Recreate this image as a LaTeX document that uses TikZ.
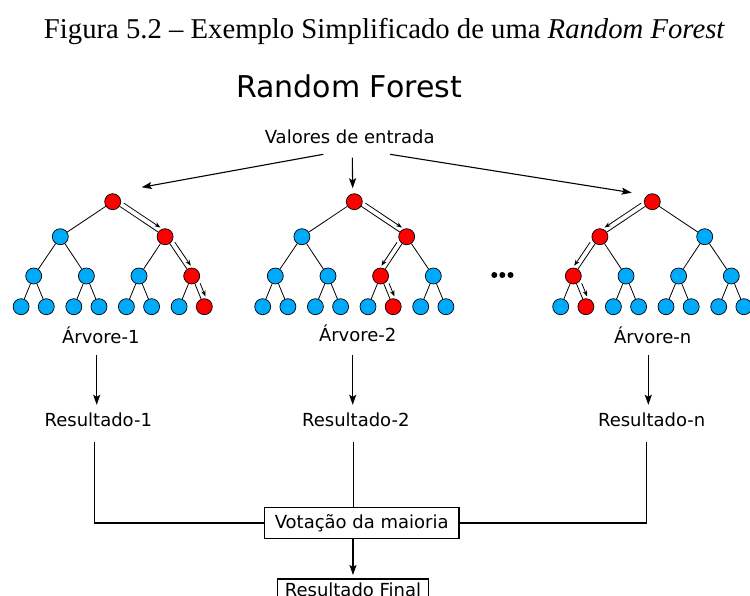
\documentclass[tikz,border=0pt]{standalone}
\usepackage{fontspec}
\setmainfont{DejaVu Sans}
\newfontfamily\capfont{Liberation Serif}
\usetikzlibrary{calc,arrows.meta}
\definecolor{nodeblue}{RGB}{0,170,250}
\definecolor{nodered}{RGB}{255,0,0}
\tikzset{
  tn/.style={circle,draw=black,line width=0.7pt,minimum size=16pt,inner sep=0pt},
  edge/.style={line width=0.8pt},
  flow/.style={line width=0.8pt,-{Stealth[length=6pt,width=4.5pt]},shorten <=10pt,shorten >=9pt},
  lbl/.style={font=\fontsize{18}{21}\selectfont,inner sep=0pt,anchor=base},
  arr/.style={line width=1.1pt,-{Stealth[length=10pt,width=7pt,inset=2pt]}},
  link/.style={line width=1.4pt},
  box/.style={draw,line width=1.2pt,font=\fontsize{18}{21}\selectfont,inner sep=0pt},
}
\newcommand\drawtree[3]{%
  \foreach \i/\dx/\yy in {1/0/201.7, 2/-52.4/236.7, 3/52.4/236.7,
      4/-79/276, 5/-26.3/276, 6/26.3/276, 7/79/276,
      8/-91.6/306.7, 9/-66.4/306.7, 10/-38.9/306.7, 11/-13.7/306.7,
      12/13.7/306.7, 13/38.9/306.7, 14/66.4/306.7, 15/91.6/306.7}{%
    \gdef\fc{nodeblue}%
    \foreach \r in {#3}{\ifnum\r=\i\relax\gdef\fc{nodered}\fi}%
    \node[tn,fill=\fc] (#1-\i) at (#2+\dx,\yy) {};
  }
  \foreach \p/\c in {1/2,1/3,2/4,2/5,3/6,3/7,4/8,4/9,5/10,5/11,6/12,6/13,7/14,7/15}
    \draw[edge] (#1-\p) -- (#1-\c);
}
\newcommand\flowarr[4]{\draw[flow] ($(#1)!5pt!#3:(#2)$) -- ($(#2)!5pt!#4:(#1)$);}
\begin{document}
\begin{tikzpicture}[x=1pt,y=-1pt]
\useasboundingbox (0,0) rectangle (750,596);

% caption and title
\node[anchor=base,inner sep=0pt,font=\capfont\fontsize{28.7}{32}\selectfont] (cap) at (384.5,39)
  {Figura 5.2 – Exemplo Simplificado de uma \textit{Random Forest}};
\node[anchor=base,inner sep=0pt,font=\fontsize{30}{34}\selectfont] (title) at (349,98) {Random Forest};

\node[lbl] (val) at (349.7,144) {Valores de entrada};

% trees
\drawtree{t1}{112.7}{1,3,7,15}
\drawtree{t2}{354.3}{1,3,6,13}
\drawtree{t3}{652.3}{1,2,4,9}

\flowarr{t1-1}{t1-3}{90}{-90}
\flowarr{t1-3}{t1-7}{90}{-90}
\flowarr{t1-7}{t1-15}{90}{-90}
\flowarr{t2-1}{t2-3}{90}{-90}
\flowarr{t2-3}{t2-6}{-90}{90}
\flowarr{t2-6}{t2-13}{90}{-90}
\flowarr{t3-1}{t3-2}{-90}{90}
\flowarr{t3-2}{t3-4}{-90}{90}
\flowarr{t3-4}{t3-9}{90}{-90}

% input arrows
\coordinate (s1) at (323.3,154.3);
\coordinate (s2) at (352.3,157.7);
\coordinate (s3) at (390,154.3);
\coordinate (e1) at (141.7,187.3);
\coordinate (e2) at (352.7,188.3);
\coordinate (e3) at (631.7,192.7);
\draw[arr] (s1) -- (e1);
\draw[arr] (s2) -- (e2);
\draw[arr] (s3) -- (e3);

% dots
\fill (494.3,275) circle (3pt);
\fill (502.3,275) circle (3pt);
\fill (510.5,275) circle (3pt);

% labels
\node[lbl] (a1) at (100.8,343.3) {Árvore-1};
\node[lbl] (a2) at (357.7,341) {Árvore-2};
\node[lbl] (a3) at (652.7,343.3) {Árvore-n};
\node[lbl] (r1) at (98.3,426) {Resultado-1};
\node[lbl] (r2) at (355.8,426) {Resultado-2};
\node[lbl] (r3) at (651.7,426.5) {Resultado-n};

\draw[arr,shorten <=11pt,shorten >=7.3pt] ([xshift=-4.1pt]a1.south) -- ([xshift=-4.1pt]a1.south |- r1.north);
\draw[arr,shorten <=13.3pt,shorten >=7.3pt] ([xshift=-5pt]a2.south) -- ([xshift=-5pt]a2.south |- r2.north);
\draw[arr,shorten <=11pt,shorten >=7.8pt] ([xshift=-4.4pt]a3.south) -- ([xshift=-4.4pt]a3.south |- r3.north);

% voting
\node[box,minimum width=194.7pt,minimum height=30.6pt] (vote) at (361.7,523) {Votação da maioria};
\node[box,anchor=north,minimum width=150.6pt,inner ysep=3.7pt] (final) at (353,578.3) {Resultado Final};

\draw[link,shorten <=15.7pt] ([xshift=-4pt]r1.south) |- (vote.west);
\draw[link,shorten <=15.7pt] ([xshift=-2.5pt]r2.south) -- ([xshift=-2.5pt]r2.south |- vote.north);
\draw[link,shorten <=15.2pt] ([xshift=-5pt]r3.south) |- (vote.east);
\draw[arr,shorten >=3.3pt] (final.north |- vote.south) -- (final.north);
\end{tikzpicture}
\end{document}
